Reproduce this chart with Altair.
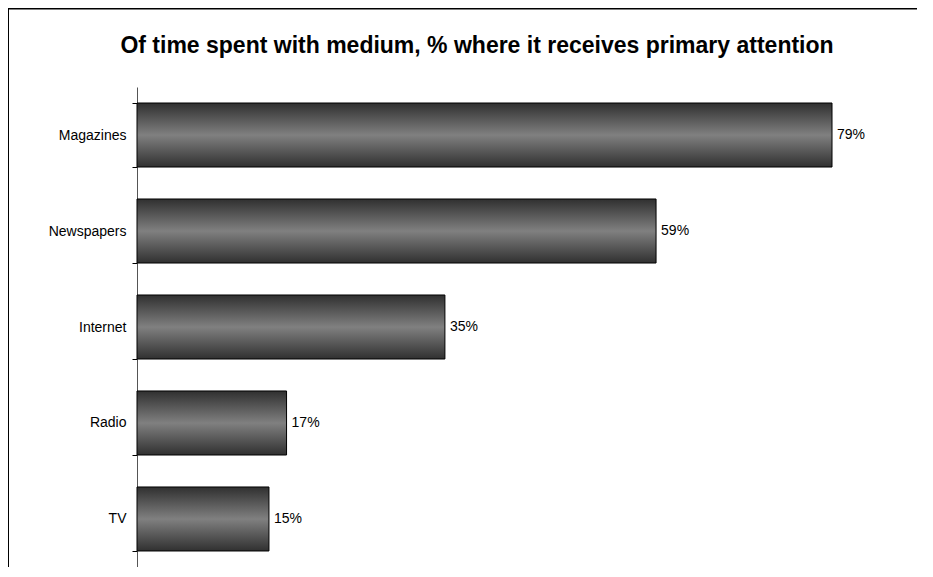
import altair as alt
import pandas as pd

categories = ["Magazines", "Newspapers", "Internet", "Radio", "TV"]
values = [79, 59, 35, 17, 15]
labels = ["79%", "59%", "35%", "17%", "15%"]
title_text = "Of time spent with medium, % where it receives primary attention"

df = pd.DataFrame({"medium": categories, "pct": values, "label": labels})

FONT = "Liberation Sans"

gradient = alt.LinearGradient(
    gradient="linear", x1=0, y1=0, x2=0, y2=1,
    stops=[
        alt.GradientStop(color="#303030", offset=0),
        alt.GradientStop(color="#808080", offset=0.5),
        alt.GradientStop(color="#303030", offset=1),
    ],
)

y_enc = alt.Y(
    "medium:N", sort=categories, title=None,
    scale=alt.Scale(paddingInner=0.333, paddingOuter=0.1667),
    axis=alt.Axis(
        tickBand="extent", tickSize=5, labelPadding=6, tickColor="#000000",
        domainColor="#555555", labelFont=FONT, labelFontSize=14,
        labelColor="#000000", domainWidth=1, tickWidth=1,
    ),
)
x_enc = alt.X("pct:Q", scale=alt.Scale(domain=[0, 84]), axis=None)

bars = alt.Chart(df).mark_bar(
    color=gradient, stroke="#000000", strokeWidth=1
).encode(x=x_enc, y=y_enc)

text = alt.Chart(df).mark_text(
    align="left", dx=5, font=FONT, fontSize=14, color="#000000"
).encode(x=x_enc, y=y_enc, text="label:N")

one = pd.DataFrame({"t": [title_text]})

title = alt.Chart(one).mark_text(
    font=FONT, fontSize=23, fontWeight="bold", color="#000000",
    align="center", baseline="alphabetic", clip=False
).encode(x=alt.value(340), y=alt.value(-34.5), text="t:N")

frame_top = alt.Chart(one).mark_rule(
    color="#000000", strokeWidth=3, clip=False
).encode(x=alt.value(-131), x2=alt.value(780), y=alt.value(-79))

frame_left = alt.Chart(one).mark_rule(
    color="#000000", strokeWidth=3, clip=False
).encode(x=alt.value(-129.5), y=alt.value(-80.5), y2=alt.value(480))

chart = alt.layer(bars, text, title, frame_top, frame_left).properties(
    width=739, height=480,
    autosize=alt.AutoSizeParams(type="none"),
    padding={"left": 129, "top": 79, "right": 41, "bottom": 0},
).configure_view(stroke=None)

chart.save("out.html", embed_options={"renderer": "svg", "actions": False})
